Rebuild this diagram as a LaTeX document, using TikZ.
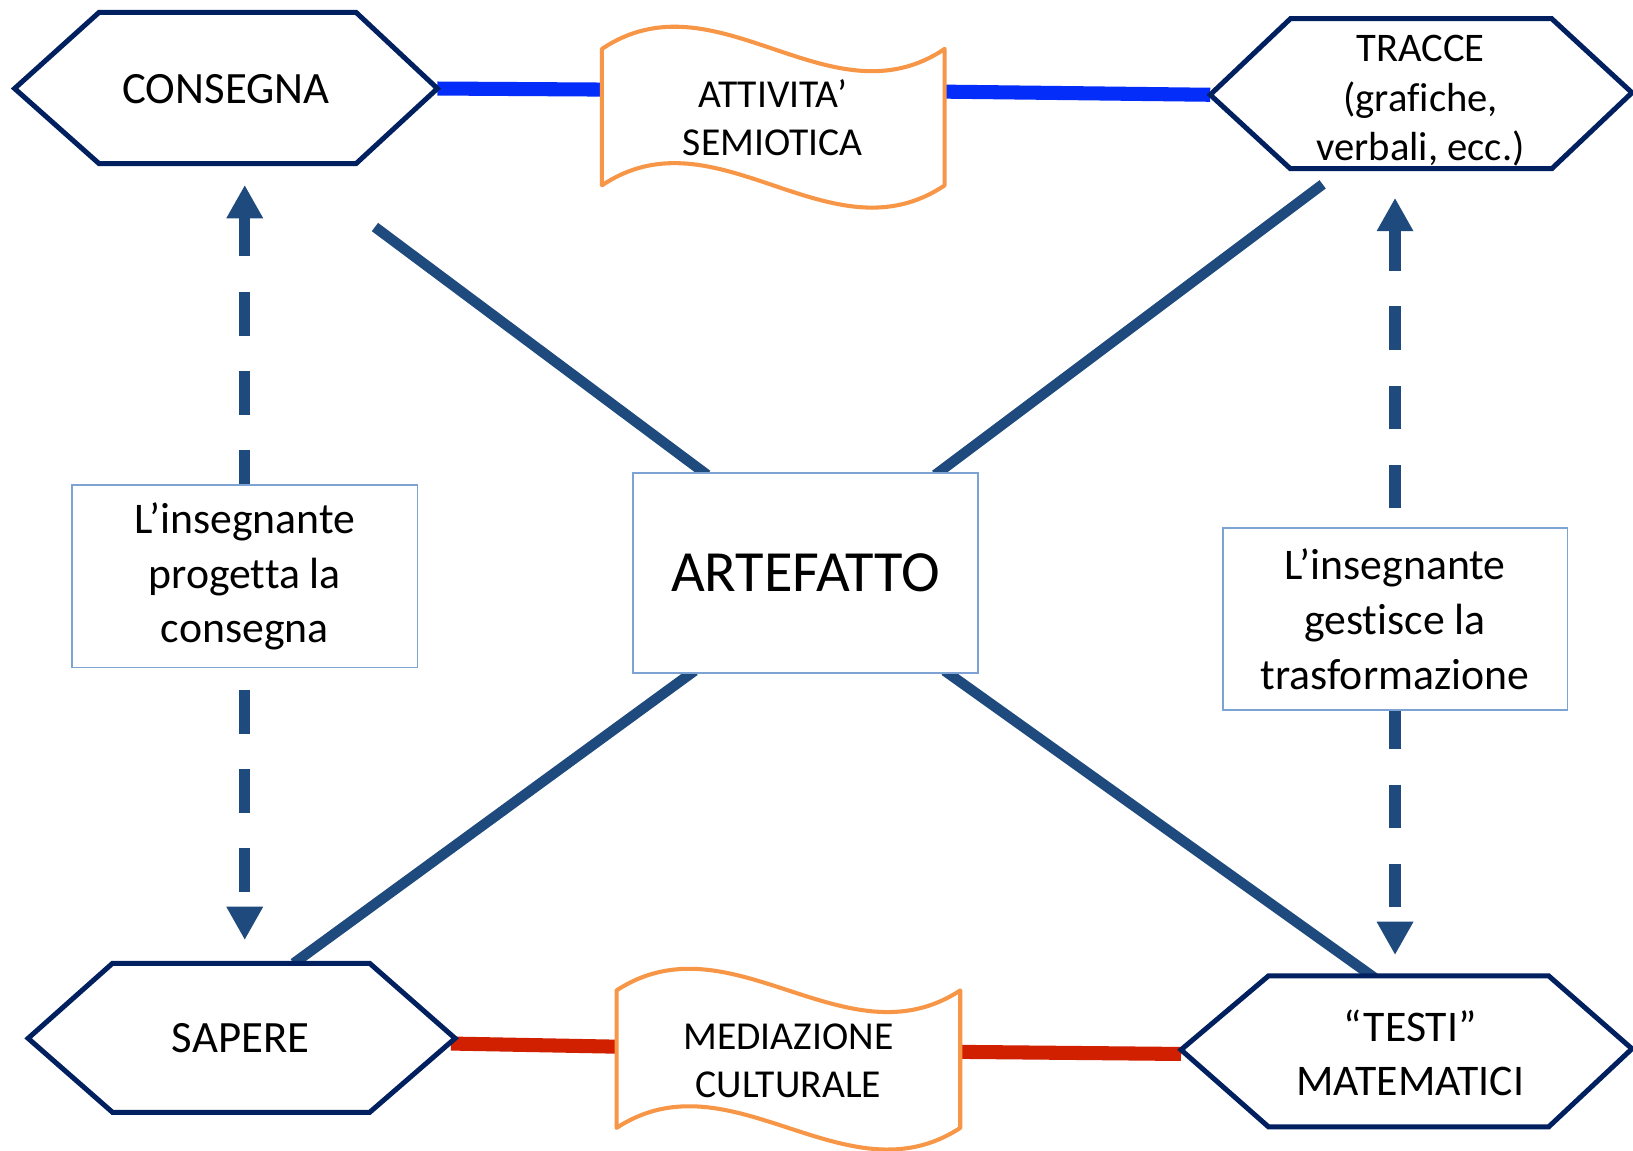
\documentclass[tikz,border=0pt]{standalone}
\usepackage{fontspec}
\setmainfont[Ligatures=NoCommon]{Carlito}
\usetikzlibrary{arrows.meta}
\definecolor{navy}{RGB}{0,32,96}
\definecolor{linkblue}{RGB}{5,45,250}
\definecolor{linkred}{RGB}{208,32,0}
\definecolor{wavecol}{RGB}{247,150,70}
\definecolor{diag}{RGB}{31,74,126}
\definecolor{boxcol}{RGB}{125,163,213}
\begin{document}
\begin{tikzpicture}[x=1pt,y=-1pt,
  hexa/.style={draw=navy,line width=4.8pt,line join=miter,fill=white},
  wavebox/.style={draw=wavecol,line width=3.9pt,line join=round,fill=white},
  bluelink/.style={draw=linkblue,line width=13.5pt},
  redlink/.style={draw=linkred,line width=13.5pt},
  diagline/.style={draw=diag,line width=10pt},
  dasharrow/.style={draw=diag,line width=11pt,dash pattern=on 42pt off 34pt,-{Triangle[length=32pt,width=33pt]}},
  textbox/.style={draw=boxcol,line width=1.6pt,fill=white,align=center,inner sep=0pt,text=black},
  lbl/.style={align=center,inner sep=0pt,text=black}]
\useasboundingbox (0,0) rectangle (1568,1105);
\fill[white] (0,0) rectangle (1568,1105);

% ---- anchor coordinates
\coordinate (conR) at (420,85);
\coordinate (attL) at (578,86);
\coordinate (attR) at (907,88);
\coordinate (traL) at (1162,91);
\coordinate (sapR) at (433,1002);
\coordinate (medL) at (592,1005);
\coordinate (medR) at (922,1010);
\coordinate (tesL) at (1134,1012);

\coordinate (d1s) at (360,218);  \coordinate (d1e) at (679,456);
\coordinate (d2s) at (1270,177); \coordinate (d2e) at (898,456);
\coordinate (d3s) at (667,644);  \coordinate (d3e) at (282,925);
\coordinate (d4s) at (907,644);  \coordinate (d4e) at (1320,939);

% ---- horizontal links (behind shapes)
\draw[bluelink] (conR) -- (attL);
\draw[bluelink] (attR) -- (traL);
\draw[redlink] (sapR) -- (medL);
\draw[redlink] (medR) -- (tesL);

% ---- diagonals
\draw[diagline] (d1s) -- (d1e);
\draw[diagline] (d2s) -- (d2e);
\draw[diagline] (d3s) -- (d3e);
\draw[diagline] (d4s) -- (d4e);

% ---- hexagons
\draw[hexa] (14,85) -- (95,12) -- (342,12) -- (conR) -- (342,157) -- (95,157) -- cycle;
\node[lbl,font=\fontsize{43}{52}\selectfont] (consegna) at (217,86) {CONSEGNA};

\draw[hexa] (traL) -- (1239,18) -- (1490,18) -- (1567,89) -- (1490,162) -- (1239,162) -- cycle;
\node[lbl,font=\fontsize{39}{47.5}\selectfont] (tracce) at (1364,97) {TRACCE\\(grafiche,\\verbali, ecc.)};

\draw[hexa] (27,997) -- (108,925) -- (355,925) -- (437,997) -- (355,1068) -- (108,1068) -- cycle;
\node[lbl,font=\fontsize{43}{52}\selectfont] (sapere) at (231,997) {SAPERE};

\draw[hexa] (1134,1008) -- (1218,937) -- (1487,937) -- (1567,1007) -- (1487,1082) -- (1218,1082) -- cycle;
\node[lbl,font=\fontsize{42}{51}\selectfont] (testi) at (1354,1011) {“TESTI”\\MATEMATICI};

% ---- waves
\draw[wavebox] (578,47) .. controls (688,-27) and (797,121) .. (907,47)
  -- (907,178) .. controls (797,252) and (688,104) .. (578,178) -- cycle;
\node[lbl,font=\fontsize{38}{46.4}\selectfont] (attivita) at (742,113) {ATTIVITA’\\SEMIOTICA};

\draw[wavebox] (592,951) .. controls (702,879) and (812,1023) .. (922,951)
  -- (922,1083) .. controls (812,1155) and (702,1011) .. (592,1083) -- cycle;
\node[lbl,font=\fontsize{38}{46}\selectfont] (mediazione) at (757,1019) {MEDIAZIONE\\CULTURALE};

% ---- boxes
\node[textbox,minimum width=331pt,minimum height=192pt,font=\fontsize{56}{64}\selectfont] (artefatto) at (773.5,550) {ARTEFATTO};
\node[textbox,minimum width=332pt,minimum height=175pt,font=\fontsize{42}{52.5}\selectfont] (progetta) at (235,553.5) {L’insegnante\\progetta la\\consegna};
\node[textbox,minimum width=331pt,minimum height=175pt,font=\fontsize{42}{52.5}\selectfont] (gestisce) at (1339.5,594.5) {L’insegnante\\gestisce la\\trasformazione};

% ---- dashed arrows
\coordinate (tipA) at (235,177.6);
\coordinate (tipB) at (235,902.6);
\coordinate (tipC) at (1339.5,190);
\coordinate (tipD) at (1339.5,917);
\draw[dasharrow,dash phase=9pt] (progetta.north) -- (tipA);
\draw[dasharrow,dash phase=55.5pt] (progetta.south) -- (tipB);
\draw[dasharrow,dash phase=58pt] (gestisce.north) -- (tipC);
\draw[dasharrow,dash phase=5.5pt] (gestisce.south) -- (tipD);
\end{tikzpicture}
\end{document}
